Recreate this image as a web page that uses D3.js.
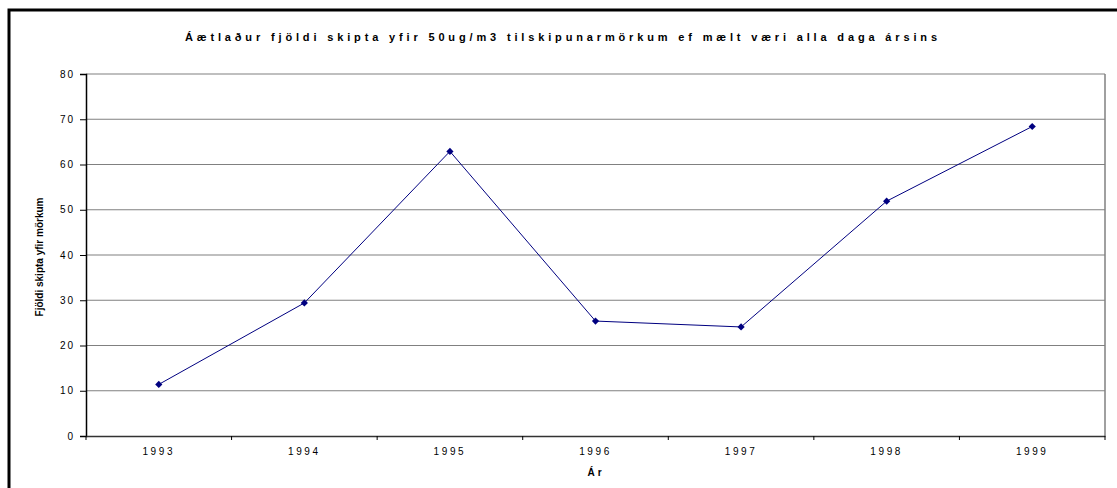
<!DOCTYPE html>
<html>
<head>
<meta charset="utf-8">
<script src="https://cdn.jsdelivr.net/npm/d3@7"></script>
<style>
body { margin:0; background:#fff; }
text { font-family: "Liberation Sans", Arial, sans-serif; }
</style>
</head>
<body>
<div id="chart"></div>
<script>
// datos del grafico
var ar = ["1993","1994","1995","1996","1997","1998","1999"];
var fjoldi = [11.4, 29.4, 62.9, 25.4, 24.1, 51.9, 68.4];
var yTicks = [0,10,20,30,40,50,60,70,80];
var titill = "Áætlaður fjöldi skipta yfir 50ug/m3 tilskipunarmörkum ef mælt væri alla daga ársins";

var W = 1117, H = 488;
var m = {left:86, top:74, right:1105, bottom:436};

var svg = d3.select("#chart").append("svg")
	.attr("width", W)
	.attr("height", H);

// marco negro
svg.append("rect")
	.attr("x", 9).attr("y", 10)
	.attr("width", 1200).attr("height", 600)
	.attr("fill", "none")
	.attr("stroke", "#000")
	.attr("stroke-width", 3);

var x = d3.scaleBand().domain(ar).range([m.left, m.right]).padding(0);
var y = d3.scaleLinear().domain([0,80]).range([m.bottom, m.top]);

// lineas de grilla
svg.append("g")
	.selectAll("line")
	.data(yTicks.slice(1))
	.enter()
	.append("line")
	.attr("x1", m.left).attr("x2", m.right)
	.attr("y1", function(d){ return y(d); })
	.attr("y2", function(d){ return y(d); })
	.attr("stroke", "#808080")
	.attr("stroke-width", 1.2);

// borde derecho
svg.append("line")
	.attr("x1", m.right).attr("x2", m.right)
	.attr("y1", m.top).attr("y2", m.bottom)
	.attr("stroke", "#808080")
	.attr("stroke-width", 1.5);

// eje y
var yAxis = svg.append("g")
	.attr("transform", "translate(" + m.left + ",0)")
	.call(d3.axisLeft(y).tickValues(yTicks).tickSize(6).tickPadding(5));
yAxis.select(".domain").attr("stroke", "#000").attr("stroke-width", 1.5);
yAxis.selectAll(".tick line").attr("stroke", "#000");
yAxis.selectAll("text")
	.attr("font-size", "10px")
	.attr("fill", "#000")
	.style("letter-spacing", "2px")
	.style("font-family", "'Liberation Sans', Arial, sans-serif");

// eje x
var xAxis = svg.append("g")
	.attr("transform", "translate(0," + m.bottom + ")")
	.call(d3.axisBottom(x).tickSize(0).tickPadding(12));
xAxis.select(".domain").attr("stroke", "#333").attr("stroke-width", 1.5);
xAxis.selectAll("text")
	.attr("font-size", "10px")
	.attr("fill", "#000")
	.style("letter-spacing", "2.6px")
	.style("font-family", "'Liberation Sans', Arial, sans-serif");

// marcas entre categorias
svg.append("g")
	.selectAll("line")
	.data(ar.concat(["fin"]))
	.enter()
	.append("line")
	.attr("x1", function(d, i){ return m.left + i * x.bandwidth(); })
	.attr("x2", function(d, i){ return m.left + i * x.bandwidth(); })
	.attr("y1", m.bottom).attr("y2", m.bottom + 4)
	.attr("stroke", "#000");

// linea de datos
var linea = d3.line()
	.x(function(d, i){ return x(ar[i]) + x.bandwidth()/2; })
	.y(function(d){ return y(d); });

svg.append("path")
	.datum(fjoldi)
	.attr("d", linea)
	.attr("fill", "none")
	.attr("stroke", "#000080")
	.attr("stroke-width", 1);

svg.append("g")
	.selectAll("path")
	.data(fjoldi)
	.enter()
	.append("path")
	.attr("d", d3.symbol().type(d3.symbolSquare).size(26))
	.attr("transform", function(d, i){ return "translate(" + (x(ar[i]) + x.bandwidth()/2) + "," + y(d) + ") rotate(45)"; })
	.attr("fill", "#000080");

// titulo
svg.append("text")
	.attr("x", 561).attr("y", 41)
	.attr("text-anchor", "middle")
	.attr("font-size", "11px")
	.attr("font-weight", "bold")
	.attr("textLength", 752)
	.attr("lengthAdjust", "spacing")
	.text(titill);

// titulo eje x
svg.append("text")
	.attr("x", 596).attr("y", 476)
	.attr("text-anchor", "middle")
	.attr("font-size", "10px")
	.attr("font-weight", "bold")
	.style("letter-spacing", "3px")
	.text("Ár");

// titulo eje y
svg.append("text")
	.attr("transform", "translate(43,257) rotate(-90)")
	.attr("text-anchor", "middle")
	.attr("font-size", "10px")
	.attr("font-weight", "bold")
	.text("Fjöldi skipta yfir mörkum");
</script>
</body>
</html>
